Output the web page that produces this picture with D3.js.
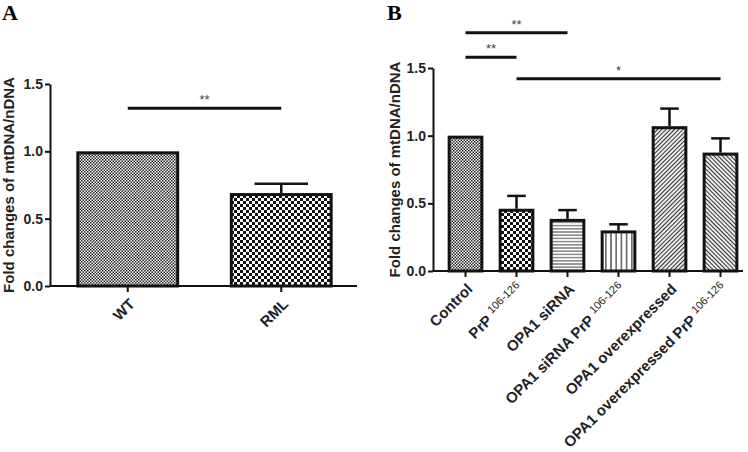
<!DOCTYPE html>
<html>
<head>
<meta charset="utf-8">
<script src="https://cdn.jsdelivr.net/npm/d3@7"></script>
<style>
  html, body { margin: 0; padding: 0; background: #fff; }
  svg { display: block; }
  text { font-family: Arial, "Liberation Sans", Helvetica, sans-serif; }
</style>
</head>
<body>
<svg id="chart" width="748" height="452"></svg>
<script>
// ---------- DATA ----------
const yTicks = [0, 0.5, 1.0, 1.5];
const yTitle = "Fold changes of mtDNA/nDNA";

const aCategories = ["WT", "RML"];
const aValues = [1.0, 0.69];
const aErrors = [0, 0.07];
const aPatterns = ["checkFine", "checkCoarse"];
const aSig = [{ from: 0, to: 1, y: 1.32, label: "**" }];

const bCategories = [
  { main: "Control", sup: "" },
  { main: "PrP", sup: "106-126" },
  { main: "OPA1 siRNA", sup: "" },
  { main: "OPA1 siRNA PrP", sup: "106-126" },
  { main: "OPA1 overexpressed", sup: "" },
  { main: "OPA1 overexpressed PrP", sup: "106-126" }
];
const bValues = [1.0, 0.46, 0.385, 0.30, 1.07, 0.875];
const bErrors = [0, 0.095, 0.065, 0.045, 0.13, 0.105];
const bPatterns = ["checkFine", "checkCoarse", "hLines", "vLines", "diagUp", "diagDown"];
const bSig = [
  { from: 0, to: 2, y: 1.76, label: "**" },
  { from: 0, to: 1, y: 1.58, label: "**" },
  { from: 1, to: 5, y: 1.42, label: "*" }
];

// ---------- SVG / PATTERNS ----------
const FONT = "Arial, 'Liberation Sans', Helvetica, sans-serif";
const svg = d3.select("#chart");
const defs = svg.append("defs");

function pat(id, w, h, transform) {
  const p = defs.append("pattern").attr("id", id)
    .attr("patternUnits", "userSpaceOnUse").attr("width", w).attr("height", h);
  if (transform) p.attr("patternTransform", transform);
  p.append("rect").attr("width", w).attr("height", h).attr("fill", "#fff");
  return p;
}
let p = pat("checkFine", 3, 3);
p.append("rect").attr("x", 0).attr("y", 0).attr("width", 1.5).attr("height", 1.5).attr("fill", "#222");
p.append("rect").attr("x", 1.5).attr("y", 1.5).attr("width", 1.5).attr("height", 1.5).attr("fill", "#222");
p = pat("checkCoarse", 6, 6);
p.append("rect").attr("x", 0).attr("y", 0).attr("width", 3).attr("height", 3).attr("fill", "#111");
p.append("rect").attr("x", 3).attr("y", 3).attr("width", 3).attr("height", 3).attr("fill", "#111");
p = pat("hLines", 10, 3.2);
p.append("line").attr("x1", 0).attr("x2", 10).attr("y1", 1.6).attr("y2", 1.6).attr("stroke", "#444").attr("stroke-width", 1);
p = pat("vLines", 5.2, 10);
p.append("line").attr("x1", 2.6).attr("x2", 2.6).attr("y1", 0).attr("y2", 10).attr("stroke", "#333").attr("stroke-width", 1.2);
p = pat("diagUp", 3, 10, "rotate(45)");
p.append("line").attr("x1", 1.5).attr("x2", 1.5).attr("y1", 0).attr("y2", 10).attr("stroke", "#333").attr("stroke-width", 1.2);
p = pat("diagDown", 3, 10, "rotate(-45)");
p.append("line").attr("x1", 1.5).attr("x2", 1.5).attr("y1", 0).attr("y2", 10).attr("stroke", "#333").attr("stroke-width", 1.2);

// ---------- PANEL DRAWING ----------
function drawPanel(cfg) {
  const g = svg.append("g");
  const y = d3.scaleLinear().domain([0, 1.5]).range([cfg.y0, cfg.y1]);
  const x = d3.scaleBand().domain(d3.range(cfg.values.length))
    .range([cfg.bandL, cfg.bandR]).paddingInner(cfg.pad).paddingOuter(cfg.pad / 2);

  // panel letter
  g.append("text").attr("x", cfg.letterX).attr("y", 20)
    .style("font-family", "'Liberation Serif', 'Times New Roman', serif")
    .style("font-weight", "bold").style("font-size", "22px").text(cfg.letter);

  // y axis
  const yAxis = d3.axisLeft(y).tickValues(yTicks).tickFormat(d3.format(".1f"))
    .tickSize(5).tickSizeOuter(0).tickPadding(2);
  const ya = g.append("g").attr("transform", `translate(${cfg.axisX},0)`).call(yAxis);
  ya.select(".domain").attr("stroke", "#111").attr("stroke-width", 2);
  ya.selectAll(".tick line").attr("stroke", "#111").attr("stroke-width", 2);
  ya.selectAll(".tick text").style("font-size", "14px").style("font-weight", "bold")
    .style("font-family", FONT).attr("fill", "#222");

  // y title
  g.append("text")
    .attr("transform", `translate(${cfg.titleX},${(cfg.y0 + cfg.y1) / 2}) rotate(-90)`)
    .attr("text-anchor", "middle")
    .style("font-family", FONT)
    .style("font-size", "15px").style("font-weight", "bold").attr("fill", "#222")
    .text(yTitle);

  // x axis baseline
  g.append("line").attr("x1", cfg.axisX).attr("x2", cfg.axisEnd)
    .attr("y1", y(0)).attr("y2", y(0)).attr("stroke", "#111").attr("stroke-width", 2);
  // x ticks
  g.selectAll(".xt").data(cfg.values).enter().append("line")
    .attr("x1", (d, i) => x(i) + x.bandwidth() / 2).attr("x2", (d, i) => x(i) + x.bandwidth() / 2)
    .attr("y1", y(0)).attr("y2", y(0) + 6).attr("stroke", "#111").attr("stroke-width", 2);

  // error bars
  const capW = x.bandwidth() * 0.52;
  cfg.values.forEach((v, i) => {
    const e = cfg.errors[i];
    if (!e) return;
    const cx = x(i) + x.bandwidth() / 2;
    g.append("line").attr("x1", cx).attr("x2", cx).attr("y1", y(v)).attr("y2", y(v + e))
      .attr("stroke", "#111").attr("stroke-width", 2.5);
    g.append("line").attr("x1", cx - capW / 2).attr("x2", cx + capW / 2)
      .attr("y1", y(v + e)).attr("y2", y(v + e)).attr("stroke", "#111").attr("stroke-width", 2.5);
  });

  // bars
  g.selectAll(".bar").data(cfg.values).enter().append("rect")
    .attr("x", (d, i) => x(i) + 1.5).attr("width", x.bandwidth() - 3)
    .attr("y", d => y(d) + 1.5).attr("height", d => y(0) - y(d) - 1.5)
    .attr("fill", (d, i) => `url(#${cfg.patterns[i]})`)
    .attr("stroke", "#111").attr("stroke-width", 3);

  // x labels
  cfg.labels.forEach((lab, i) => {
    const cx = x(i) + x.bandwidth() / 2;
    const t = g.append("text")
      .attr("transform", `translate(${cx + cfg.labDX},${y(0) + cfg.labDY}) rotate(-45)`)
      .attr("text-anchor", "end").attr("fill", "#222")
      .style("font-family", FONT)
      .style("font-size", "15px").style("font-weight", "bold");
    t.append("tspan").text(lab.main);
    if (lab.sup) {
      t.append("tspan").attr("dx", 4).attr("dy", -6).style("font-size", "11px")
        .style("font-weight", "normal").text(lab.sup);
    }
  });

  // significance
  cfg.sig.forEach(s => {
    const x1 = x(s.from) + x.bandwidth() / 2;
    const x2 = x(s.to) + x.bandwidth() / 2;
    g.append("line").attr("x1", x1).attr("x2", x2).attr("y1", y(s.y)).attr("y2", y(s.y))
      .attr("stroke", "#111").attr("stroke-width", 3);
    g.append("text").attr("x", (x1 + x2) / 2).attr("y", y(s.y) - 4)
      .attr("text-anchor", "middle").attr("fill", "#444")
      .style("font-family", FONT)
      .style("font-size", "13px").text(s.label);
  });
}

drawPanel({
  letter: "A", letterX: 2,
  values: aValues, errors: aErrors, patterns: aPatterns,
  labels: aCategories.map(c => ({ main: c, sup: "" })), sig: aSig,
  y0: 286, y1: 84, axisX: 50, axisEnd: 357, bandL: 51, bandR: 358, pad: 0.33,
  titleX: 14, labDX: 8, labDY: 19
});

drawPanel({
  letter: "B", letterX: 387,
  values: bValues, errors: bErrors, patterns: bPatterns,
  labels: bCategories, sig: bSig,
  y0: 271, y1: 68, axisX: 433, axisEnd: 743, bandL: 440, bandR: 746, pad: 0.3,
  titleX: 400, labDX: 8, labDY: 19
});
</script>
</body>
</html>
